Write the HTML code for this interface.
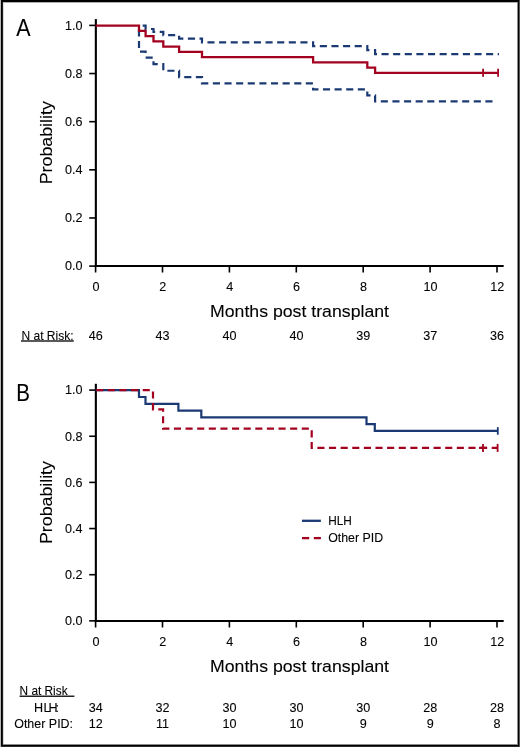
<!DOCTYPE html>
<html><head><meta charset="utf-8"><style>
html,body{margin:0;padding:0;background:#fff;width:520px;height:747px;overflow:hidden;font-family:"Liberation Sans",sans-serif;}
svg{display:block;}
</style></head><body>
<svg width="520" height="747" viewBox="0 0 520 747" style="font-family:'Liberation Sans', sans-serif">
<rect x="0" y="0" width="520" height="747" fill="#fff"/>
<rect x="0" y="0" width="1" height="747" fill="#b8b8b8"/>
<rect x="1" y="0" width="1" height="747" fill="#000"/>
<rect x="2" y="0" width="1" height="747" fill="#1e1e1e"/>
<rect x="3" y="2" width="1" height="743" fill="#dcdcdc"/>
<rect x="1" y="0" width="518" height="2" fill="#000"/>
<rect x="3" y="2" width="515" height="1" fill="#b0b0b0"/>
<rect x="517" y="2" width="1" height="743" fill="#8a8a8a"/>
<rect x="518" y="0" width="1" height="747" fill="#000"/>
<rect x="519" y="0" width="1" height="747" fill="#555"/>
<rect x="3" y="744" width="515" height="1" fill="#8a8a8a"/>
<rect x="1" y="745" width="518" height="1" fill="#000"/>
<rect x="1" y="746" width="518" height="1" fill="#2a2a2a"/>
<line x1="95.85" y1="19.10" x2="95.85" y2="267.00" stroke="#000" stroke-width="2.1"/>
<line x1="94.8" y1="266.00" x2="503.7" y2="266.00" stroke="#000" stroke-width="2.1"/>
<line x1="89.2" y1="266.10" x2="95" y2="266.10" stroke="#000" stroke-width="1.6"/>
<line x1="89.2" y1="217.96" x2="95" y2="217.96" stroke="#000" stroke-width="1.6"/>
<line x1="89.2" y1="169.82" x2="95" y2="169.82" stroke="#000" stroke-width="1.6"/>
<line x1="89.2" y1="121.68" x2="95" y2="121.68" stroke="#000" stroke-width="1.6"/>
<line x1="89.2" y1="73.54" x2="95" y2="73.54" stroke="#000" stroke-width="1.6"/>
<line x1="89.2" y1="25.40" x2="95" y2="25.40" stroke="#000" stroke-width="1.6"/>
<line x1="95.60" y1="266.00" x2="95.60" y2="272.50" stroke="#000" stroke-width="1.6"/>
<line x1="162.50" y1="266.00" x2="162.50" y2="272.50" stroke="#000" stroke-width="1.6"/>
<line x1="229.40" y1="266.00" x2="229.40" y2="272.50" stroke="#000" stroke-width="1.6"/>
<line x1="296.30" y1="266.00" x2="296.30" y2="272.50" stroke="#000" stroke-width="1.6"/>
<line x1="363.20" y1="266.00" x2="363.20" y2="272.50" stroke="#000" stroke-width="1.6"/>
<line x1="430.10" y1="266.00" x2="430.10" y2="272.50" stroke="#000" stroke-width="1.6"/>
<line x1="497.00" y1="266.00" x2="497.00" y2="272.50" stroke="#000" stroke-width="1.6"/>
<path d="M139.00,25.70 H139.00 V25.70 H145.60 V29.02 H153.50 V31.90 H163.30 V35.13 H179.10 V38.61 H202.00 V42.28 H313.10 V46.11 H367.30 V50.06 H375.10 V54.13 H499.00" fill="none" stroke="#1b3a73" stroke-width="2.2" stroke-dasharray="7.1 4.52" stroke-dashoffset="42.80"/>
<path d="M139.00,25.70 H139.00 V51.61 H145.60 V57.62 H153.50 V64.22 H163.30 V70.73 H179.10 V77.10 H202.00 V83.33 H313.10 V89.44 H367.30 V95.43 H375.10 V101.32 H496.50" fill="none" stroke="#1b3a73" stroke-width="2.2" stroke-dasharray="7.1 4.52" stroke-dashoffset="42.80"/>
<path d="M95.60,25.70 H139.00 V30.93 H145.60 V36.17 H153.50 V41.40 H163.30 V46.63 H179.10 V51.86 H202.00 V57.10 H313.10 V62.33 H367.30 V67.56 H375.10 V72.79 H497.80" fill="none" stroke="#a3001f" stroke-width="2.3"/>
<line x1="483.10" y1="68.79" x2="483.10" y2="76.79" stroke="#a3001f" stroke-width="1.8"/>
<line x1="498.10" y1="68.79" x2="498.10" y2="76.79" stroke="#a3001f" stroke-width="1.8"/>
<line x1="21" y1="341" x2="73.8" y2="341" stroke="#222" stroke-width="1.5"/>
<line x1="95.85" y1="383.80" x2="95.85" y2="622.00" stroke="#000" stroke-width="2.1"/>
<line x1="94.8" y1="621.00" x2="503.7" y2="621.00" stroke="#000" stroke-width="2.1"/>
<line x1="89.2" y1="620.85" x2="95" y2="620.85" stroke="#000" stroke-width="1.6"/>
<line x1="89.2" y1="574.70" x2="95" y2="574.70" stroke="#000" stroke-width="1.6"/>
<line x1="89.2" y1="528.55" x2="95" y2="528.55" stroke="#000" stroke-width="1.6"/>
<line x1="89.2" y1="482.40" x2="95" y2="482.40" stroke="#000" stroke-width="1.6"/>
<line x1="89.2" y1="436.25" x2="95" y2="436.25" stroke="#000" stroke-width="1.6"/>
<line x1="89.2" y1="390.10" x2="95" y2="390.10" stroke="#000" stroke-width="1.6"/>
<line x1="95.60" y1="621.00" x2="95.60" y2="627.50" stroke="#000" stroke-width="1.6"/>
<line x1="162.50" y1="621.00" x2="162.50" y2="627.50" stroke="#000" stroke-width="1.6"/>
<line x1="229.40" y1="621.00" x2="229.40" y2="627.50" stroke="#000" stroke-width="1.6"/>
<line x1="296.30" y1="621.00" x2="296.30" y2="627.50" stroke="#000" stroke-width="1.6"/>
<line x1="363.20" y1="621.00" x2="363.20" y2="627.50" stroke="#000" stroke-width="1.6"/>
<line x1="430.10" y1="621.00" x2="430.10" y2="627.50" stroke="#000" stroke-width="1.6"/>
<line x1="497.00" y1="621.00" x2="497.00" y2="627.50" stroke="#000" stroke-width="1.6"/>
<path d="M95.60,390.20 H139.00 V396.99 H145.50 V403.78 H178.40 V410.56 H201.30 V417.35 H366.50 V424.14 H374.80 V430.93 H497.80" fill="none" stroke="#1b3a73" stroke-width="2.2"/>
<path d="M95.60,390.20 H153.00 V409.43 H163.10 V428.67 H311.70 V447.90 H497.80" fill="none" stroke="#a3001f" stroke-width="2.2" stroke-dasharray="7.1 4.52" stroke-dashoffset="-0.60"/>
<line x1="497.8" y1="427.13" x2="497.8" y2="434.73" stroke="#1b3a73" stroke-width="1.8"/>
<line x1="483.00" y1="443.90" x2="483.00" y2="451.90" stroke="#a3001f" stroke-width="1.8"/>
<line x1="497.60" y1="443.90" x2="497.60" y2="451.90" stroke="#a3001f" stroke-width="1.8"/>
<line x1="479.00" y1="447.90" x2="487.00" y2="447.90" stroke="#a3001f" stroke-width="2.2"/>
<line x1="302" y1="520.8" x2="320.9" y2="520.8" stroke="#1b3a73" stroke-width="2.3"/>
<line x1="302" y1="538.1" x2="309.2" y2="538.1" stroke="#a3001f" stroke-width="2.3"/>
<line x1="313.8" y1="538.1" x2="320.9" y2="538.1" stroke="#a3001f" stroke-width="2.3"/>
<line x1="19.6" y1="696.3" x2="74.4" y2="696.3" stroke="#222" stroke-width="1.5"/>
<g style="filter:grayscale(1)" fill="#000" stroke="#000" stroke-width="0.1">
<text x="16.3" y="36" font-size="23.6" textLength="14.3" lengthAdjust="spacingAndGlyphs">A</text>
<text transform="translate(52.0,184.3) rotate(-90)" font-size="17.3" textLength="83.1" lengthAdjust="spacingAndGlyphs">Probability</text>
<text x="82.6" y="270.40" font-size="12.6" text-anchor="end">0.0</text>
<text x="82.6" y="222.26" font-size="12.6" text-anchor="end">0.2</text>
<text x="82.6" y="174.12" font-size="12.6" text-anchor="end">0.4</text>
<text x="82.6" y="125.98" font-size="12.6" text-anchor="end">0.6</text>
<text x="82.6" y="77.84" font-size="12.6" text-anchor="end">0.8</text>
<text x="82.6" y="29.70" font-size="12.6" text-anchor="end">1.0</text>
<text x="95.90" y="290.70" font-size="12.6" text-anchor="middle">0</text>
<text x="162.80" y="290.70" font-size="12.6" text-anchor="middle">2</text>
<text x="229.70" y="290.70" font-size="12.6" text-anchor="middle">4</text>
<text x="296.60" y="290.70" font-size="12.6" text-anchor="middle">6</text>
<text x="363.50" y="290.70" font-size="12.6" text-anchor="middle">8</text>
<text x="430.40" y="290.70" font-size="12.6" text-anchor="middle">10</text>
<text x="497.30" y="290.70" font-size="12.6" text-anchor="middle">12</text>
<text x="210" y="316.70" font-size="17" textLength="179" lengthAdjust="spacingAndGlyphs">Months post transplant</text>
<text x="21.5" y="339.8" font-size="12.6" textLength="52" lengthAdjust="spacingAndGlyphs">N at Risk:</text>
<text x="95.70" y="339.8" font-size="12.6" text-anchor="middle">46</text>
<text x="162.60" y="339.8" font-size="12.6" text-anchor="middle">43</text>
<text x="229.50" y="339.8" font-size="12.6" text-anchor="middle">40</text>
<text x="296.40" y="339.8" font-size="12.6" text-anchor="middle">40</text>
<text x="363.30" y="339.8" font-size="12.6" text-anchor="middle">39</text>
<text x="430.20" y="339.8" font-size="12.6" text-anchor="middle">37</text>
<text x="497.10" y="339.8" font-size="12.6" text-anchor="middle">36</text>
<text x="16.2" y="401.2" font-size="23.6" textLength="13.7" lengthAdjust="spacingAndGlyphs">B</text>
<text transform="translate(52.0,544.0) rotate(-90)" font-size="17.3" textLength="82.9" lengthAdjust="spacingAndGlyphs">Probability</text>
<text x="82.6" y="625.15" font-size="12.6" text-anchor="end">0.0</text>
<text x="82.6" y="579.00" font-size="12.6" text-anchor="end">0.2</text>
<text x="82.6" y="532.85" font-size="12.6" text-anchor="end">0.4</text>
<text x="82.6" y="486.70" font-size="12.6" text-anchor="end">0.6</text>
<text x="82.6" y="440.55" font-size="12.6" text-anchor="end">0.8</text>
<text x="82.6" y="394.40" font-size="12.6" text-anchor="end">1.0</text>
<text x="95.90" y="645.70" font-size="12.6" text-anchor="middle">0</text>
<text x="162.80" y="645.70" font-size="12.6" text-anchor="middle">2</text>
<text x="229.70" y="645.70" font-size="12.6" text-anchor="middle">4</text>
<text x="296.60" y="645.70" font-size="12.6" text-anchor="middle">6</text>
<text x="363.50" y="645.70" font-size="12.6" text-anchor="middle">8</text>
<text x="430.40" y="645.70" font-size="12.6" text-anchor="middle">10</text>
<text x="497.30" y="645.70" font-size="12.6" text-anchor="middle">12</text>
<text x="210" y="671.70" font-size="17" textLength="179" lengthAdjust="spacingAndGlyphs">Months post transplant</text>
<text x="328.2" y="524.8" font-size="12.8" textLength="23.6" lengthAdjust="spacingAndGlyphs">HLH</text>
<text x="328.2" y="542.3" font-size="12.8" textLength="55" lengthAdjust="spacingAndGlyphs">Other PID</text>
<text x="19.6" y="694.8" font-size="12.6" textLength="48" lengthAdjust="spacingAndGlyphs">N at Risk</text>
<text y="711.6" font-size="12.6"><tspan x="34.0">H</tspan><tspan x="43.4">L</tspan><tspan x="48.6">H</tspan><tspan x="55.6">:</tspan></text>
<text x="14.2" y="728.1" font-size="12.6" textLength="58.9" lengthAdjust="spacingAndGlyphs">Other PID:</text>
<text x="95.70" y="711.8" font-size="12.6" text-anchor="middle">34</text>
<text x="95.70" y="728.1" font-size="12.6" text-anchor="middle">12</text>
<text x="162.60" y="711.8" font-size="12.6" text-anchor="middle">32</text>
<text x="162.60" y="728.1" font-size="12.6" text-anchor="middle">11</text>
<text x="229.50" y="711.8" font-size="12.6" text-anchor="middle">30</text>
<text x="229.50" y="728.1" font-size="12.6" text-anchor="middle">10</text>
<text x="296.40" y="711.8" font-size="12.6" text-anchor="middle">30</text>
<text x="296.40" y="728.1" font-size="12.6" text-anchor="middle">10</text>
<text x="363.30" y="711.8" font-size="12.6" text-anchor="middle">30</text>
<text x="363.30" y="728.1" font-size="12.6" text-anchor="middle">9</text>
<text x="430.20" y="711.8" font-size="12.6" text-anchor="middle">28</text>
<text x="430.20" y="728.1" font-size="12.6" text-anchor="middle">9</text>
<text x="497.10" y="711.8" font-size="12.6" text-anchor="middle">28</text>
<text x="497.10" y="728.1" font-size="12.6" text-anchor="middle">8</text>
</g>
</svg>
</body></html>
